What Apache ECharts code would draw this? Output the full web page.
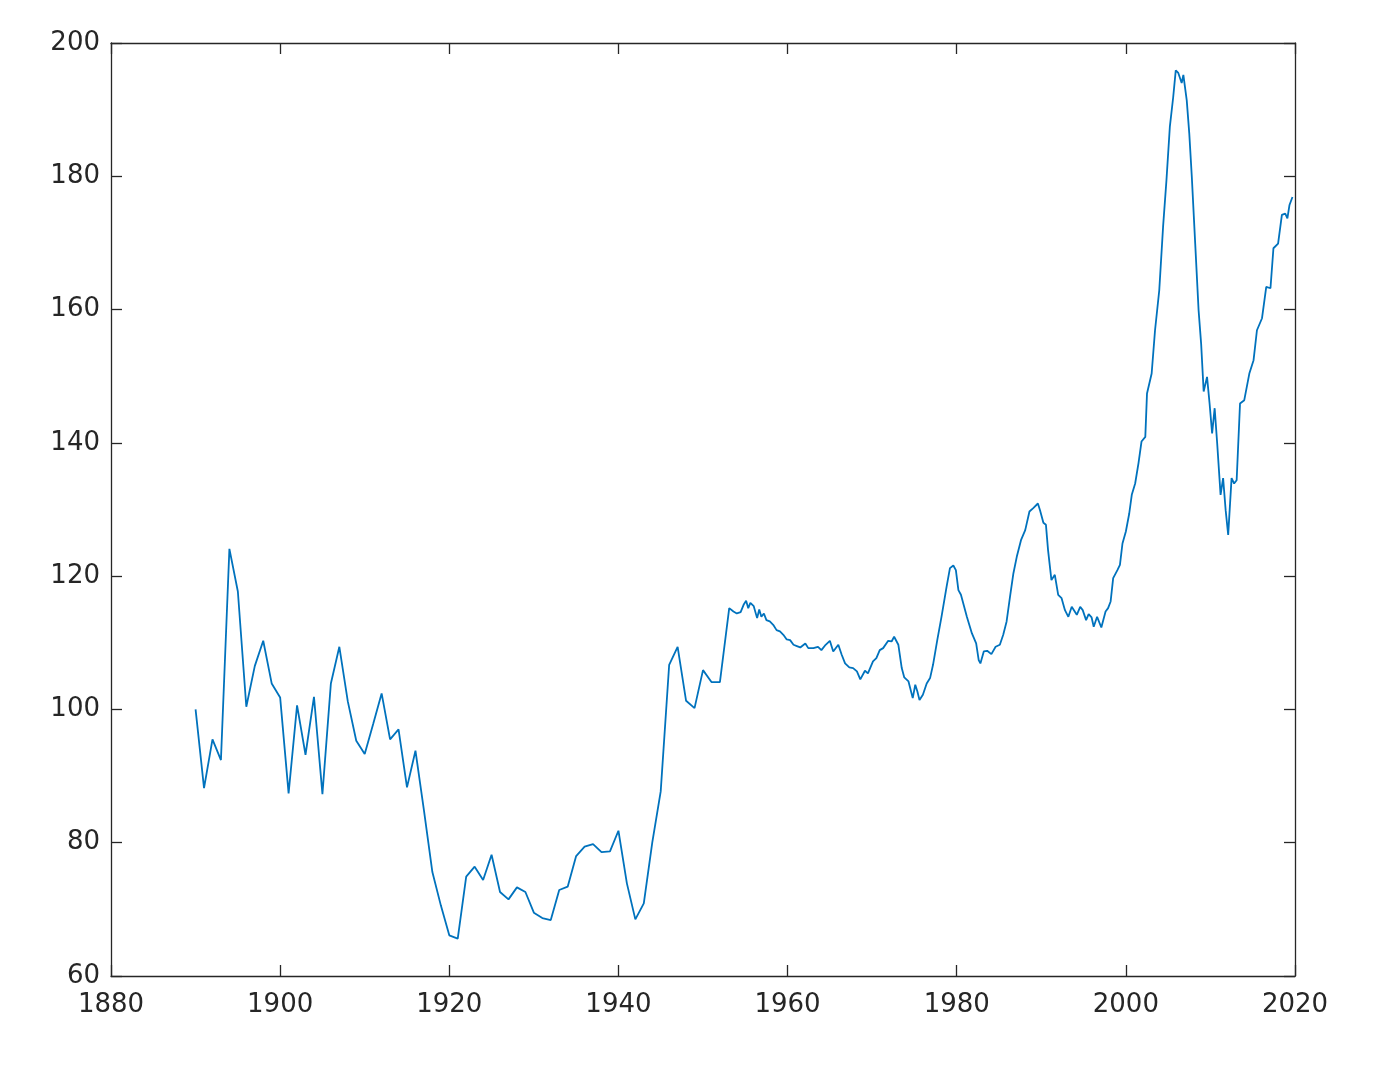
<!DOCTYPE html>
<html>
<head>
<meta charset="utf-8">
<script src="https://cdn.jsdelivr.net/npm/echarts@6/dist/echarts.min.js"></script>
<style>
html,body{margin:0;padding:0;background:#fff;}
#chart{width:1374px;height:1082px;}
</style>
</head>
<body>
<div id="chart"></div>
<script>
const years = [
1890,1891,1892,1893,1894,1895,1896,1897,1898,1899,
1900,1901,1902,1903,1904,1905,1906,1907,1908,1909,
1910,1911,1912,1913,1914,1915,1916,1917,1918,1919,
1920,1921,1922,1923,1924,1925,1926,1927,1928,1929,
1930,1931,1932,1933,1934,1935,1936,1937,1938,1939,
1940,1941,1942,1943,1944,1945,1946,1947,1948,1949,
1950,1951,1952,
1953.1,1953.6,1954.0,1954.45,1954.8,1955.1,1955.35,1955.6,1956.0,1956.4,1956.65,1956.9,
1957.2,1957.5,1957.9,1958.3,1958.7,1959.1,1959.5,1959.9,1960.3,1960.7,1961.1,1961.5,
1962.1,1962.45,1963.05,1963.6,1964.0,1964.5,1965.0,1965.4,1966.0,1966.4,1966.8,1967.3,
1967.75,1968.2,1968.6,1968.8,1969.15,1969.5,1970.1,1970.5,1970.9,1971.3,1971.9,1972.3,
1972.6,1973.1,1973.5,1973.8,1974.3,1974.8,1975.1,1975.35,1975.6,1976.0,1976.45,1976.85,
1977.2,1977.7,1978.2,1978.8,1979.2,1979.6,1979.9,1980.2,1980.5,1981.2,1981.8,1982.3,
1982.6,1982.8,1983.2,1983.6,1984.1,1984.6,1985.1,1985.5,1985.9,1986.3,1986.7,1987.1,
1987.6,1988.1,1988.6,1989.05,1989.6,1989.85,1990.25,1990.55,1990.8,1991.2,1991.6,1992.0,
1992.4,1992.8,1993.2,1993.6,1994.2,1994.6,1994.9,1995.3,1995.6,1995.95,1996.2,1996.6,
1997.1,1997.6,1997.9,1998.2,1998.5,1999.0,1999.3,1999.6,2000.0,2000.4,2000.7,2001.1,
2001.5,2001.85,2002.3,2002.5,2003.05,2003.45,2003.95,2004.4,2004.8,2005.2,2005.6,2005.9,
2006.2,2006.6,2006.8,2007.2,2007.5,2007.8,2008.2,2008.6,2008.9,2009.2,2009.6,2009.9,
2010.2,2010.5,2010.8,2011.2,2011.5,2011.8,2012.1,2012.5,2012.8,2013.1,2013.5,2014.0,
2014.6,2015.1,2015.5,2016.1,2016.6,2017.1,2017.45,2018.0,2018.45,2018.85,2019.1,2019.35,
2019.7
];
const values = [
100,88.2,95.5,92.4,124.1,117.7,100.4,106.5,110.3,103.9,
101.8,87.4,100.6,93.2,101.9,87.3,103.9,109.4,101.2,95.3,
93.3,97.8,102.4,95.5,97.0,88.3,93.8,84.9,75.6,70.6,
66.1,65.6,74.9,76.4,74.4,78.2,72.6,71.5,73.3,72.6,
69.5,68.7,68.4,72.9,73.4,78.0,79.4,79.8,78.6,78.7,
81.8,73.9,68.5,70.9,80.0,87.7,106.7,109.4,101.3,100.2,
105.9,104.1,104.1,
115.2,114.7,114.4,114.6,115.7,116.3,115.2,116.0,115.5,113.7,115.0,113.9,
114.4,113.4,113.2,112.7,111.9,111.7,111.2,110.5,110.4,109.7,109.5,109.3,
109.9,109.2,109.2,109.4,108.9,109.7,110.3,108.7,109.7,108.2,106.9,106.3,
106.2,105.7,104.5,104.4,105.8,105.4,107.2,107.7,108.9,109.2,110.3,110.2,
110.9,109.7,106.2,104.8,104.2,101.7,103.7,102.7,101.4,102.2,103.9,104.7,
106.7,110.4,113.9,118.4,121.2,121.6,120.9,117.9,117.2,113.9,111.4,109.9,
107.4,106.9,108.7,108.8,108.3,109.4,109.7,111.2,113.2,116.9,120.4,122.9,
125.4,126.9,129.7,130.2,130.9,129.9,128.0,127.7,123.9,119.4,120.2,117.2,
116.7,114.9,113.9,115.4,114.2,115.4,114.9,113.4,114.3,113.8,112.4,113.9,
112.3,114.7,115.2,116.2,119.7,120.9,121.7,124.9,126.7,129.4,132.2,133.9,
137.0,140.2,140.9,147.4,150.4,156.9,162.9,172.4,179.4,187.4,191.9,195.9,
195.5,194.0,195.2,191.4,186.4,179.9,169.9,159.9,154.9,147.7,149.9,145.9,
141.4,145.2,139.9,132.2,134.7,129.9,126.2,134.7,133.9,134.4,145.9,146.4,
150.4,152.4,156.9,158.7,163.4,163.2,169.2,169.9,174.2,174.4,173.7,175.7,
176.9
];
const xTicks = {min: 1880, max: 2020, interval: 20};
const yTicks = {min: 60, max: 200, interval: 20};

const axisColor = '#262626';
const font = {fontFamily: 'DejaVu Sans', fontSize: 26, color: '#262626'};
const chart = echarts.init(document.getElementById('chart'), null, {renderer: 'canvas'});
const data = years.map((y, i) => [y, values[i]]);
const baseX = {
  type: 'value', min: xTicks.min, max: xTicks.max, interval: xTicks.interval,
  axisLine: {show: true, onZero: false, lineStyle: {color: axisColor, width: 1.3}},
  axisTick: {show: true, inside: true, length: 11, lineStyle: {color: axisColor, width: 1.3}},
  splitLine: {show: false}
};
const baseY = {
  type: 'value', min: yTicks.min, max: yTicks.max, interval: yTicks.interval,
  axisLine: {show: true, onZero: false, lineStyle: {color: axisColor, width: 1.3}},
  axisTick: {show: true, inside: true, length: 11, lineStyle: {color: axisColor, width: 1.3}},
  splitLine: {show: false}
};
chart.setOption({
  animation: false,
  backgroundColor: '#ffffff',
  grid: {left: 111, right: 79, top: 43, bottom: 106, containLabel: false},
  xAxis: [
    Object.assign({}, baseX, {position: 'bottom',
      axisLabel: Object.assign({margin: 16, formatter: v => String(v)}, font)}),
    Object.assign({}, baseX, {position: 'top', axisLabel: {show: false}})
  ],
  yAxis: [
    Object.assign({}, baseY, {position: 'left',
      axisLabel: Object.assign({margin: 11, formatter: v => String(v)}, font)}),
    Object.assign({}, baseY, {position: 'right', axisLabel: {show: false}})
  ],
  series: [{
    type: 'line',
    data: data,
    showSymbol: false,
    symbol: 'none',
    lineStyle: {color: '#0072BD', width: 1.8},
    xAxisIndex: 0,
    yAxisIndex: 0
  }]
});
</script>
</body>
</html>
